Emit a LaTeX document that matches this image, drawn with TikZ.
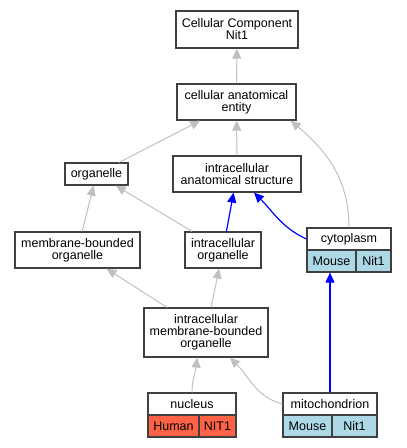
\documentclass[tikz,border=0pt]{standalone}
\usepackage{fontspec}
\setmainfont{Liberation Sans}
\usetikzlibrary{arrows.meta}
\definecolor{isagray}{HTML}{C0C0C0}
\definecolor{termedge}{HTML}{404040}
\definecolor{mouseblue}{HTML}{ADD8E6}
\definecolor{humanred}{HTML}{FF6347}
\tikzset{
    term/.style={draw=termedge, line width=1.2pt, fill=white, inner sep=0pt,
        align=center, font=\fontsize{12.5}{12}\selectfont},
    cell/.style={term, minimum height=22},
    isa/.style={color=isagray, line width=1pt,
        -{Triangle[length=10pt,width=9pt]}},
    partof/.style={color=blue, line width=1.2pt,
        -{Triangle[length=10pt,width=9pt]}}
}
\begin{document}
\begin{tikzpicture}[x=1pt, y=-1pt]
        \useasboundingbox (0,0) rectangle (407,448);
        % terms
        \node[term, minimum width=122, minimum height=37] (cc) at (237, 29.5)
            {Cellular Component\\Nit1};
        \node[term, minimum width=119, minimum height=36] (cae) at (236.5, 102)
            {cellular anatomical\\entity};
        \node[term, minimum width=63, minimum height=22] (org) at (96.5, 174)
            {organelle};
        \node[term, minimum width=128, minimum height=36] (ias) at (237, 174)
            {intracellular\\anatomical structure};
        \node[term, minimum width=125, minimum height=36] (mbo) at (77.5, 250)
            {membrane-bounded\\organelle};
        \node[term, minimum width=76, minimum height=36] (io) at (223, 250)
            {intracellular\\organelle};
        \node[term, minimum width=124, minimum height=49] (imbo) at (206, 332.5)
            {intracellular\\membrane-bounded\\organelle};
        % annotated terms
        \node[cell, minimum width=84] (cyto) at (349, 239) {cytoplasm};
        \node[cell, minimum width=49, fill=mouseblue] (cytoM) at (331.5, 261) {Mouse};
        \node[cell, minimum width=35, fill=mouseblue] (cytoN) at (373.5, 261) {Nit1};
        \node[cell, minimum width=88] (nuc) at (192, 404) {nucleus};
        \node[cell, minimum width=51, fill=humanred] (nucH) at (173.5, 426) {Human};
        \node[cell, minimum width=37, fill=humanred] (nucN) at (217.5, 426) {NIT1};
        \node[cell, minimum width=94] (mito) at (330, 404) {mitochondrion};
        \node[cell, minimum width=49, fill=mouseblue] (mitoM) at (307.5, 426) {Mouse};
        \node[cell, minimum width=45, fill=mouseblue] (mitoN) at (354.5, 426) {Nit1};
        % is_a
        \draw[isa] (cae) -- (cc);
        \draw[isa] (org) -- (cae);
        \draw[isa] (ias) -- (cae);
        \draw[isa] (cyto.north) to[out=90, in=-40] ([xshift=-6]cae.south east);
        \draw[isa] (mbo) -- (org);
        \draw[isa] (io) -- (org);
        \draw[isa] (imbo) -- (mbo);
        \draw[isa] (imbo) -- (io);
        \draw[isa] (nuc.north) to[out=90, in=-95] ([xshift=-9]imbo.south);
        \draw[isa] (mito.west) to[out=165, in=-45] ([xshift=24]imbo.south);
        % part_of
        \draw[partof] (io) -- (ias);
        \draw[partof] (cyto.west) to[out=155, in=-45] ([xshift=17]ias.south);
        \draw[partof] (mito.north) -- (mito.north |- cytoM.south);
    \end{tikzpicture}
\end{document}
